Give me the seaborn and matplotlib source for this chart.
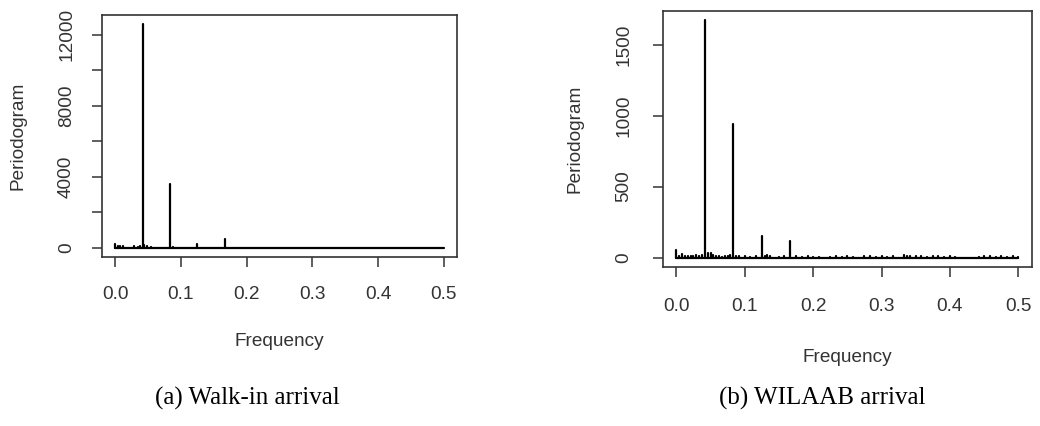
import numpy as np
import pandas as pd
import matplotlib
matplotlib.use("Agg")
import matplotlib.pyplot as plt
import seaborn as sns

# ---- data ----
walkin_freq = [0.0, 0.004, 0.008, 0.012, 0.029, 0.035, 0.0375, 0.0417, 0.044, 0.048,
               0.054, 0.0833, 0.0875, 0.125, 0.1667, 0.5]
walkin_pgram = [200, 110, 90, 100, 120, 80, 110, 12600, 150, 90,
                60, 3600, 70, 220, 520, 0]

wilaab_freq = [0.0, 0.004, 0.008, 0.012, 0.017, 0.021, 0.025, 0.029, 0.033, 0.0375,
               0.0417, 0.046, 0.05, 0.054, 0.058, 0.0625, 0.067, 0.071, 0.075, 0.079,
               0.0833, 0.0875, 0.092, 0.1, 0.108, 0.117, 0.125, 0.129, 0.133, 0.1375,
               0.15, 0.158, 0.1667, 0.175, 0.183, 0.192, 0.2, 0.208, 0.225, 0.233,
               0.242, 0.25, 0.258, 0.275, 0.283, 0.292, 0.3, 0.308, 0.317, 0.333,
               0.3375, 0.342, 0.35, 0.358, 0.367, 0.375, 0.383, 0.392, 0.4, 0.408,
               0.442, 0.45, 0.458, 0.467, 0.475, 0.483, 0.492, 0.5]
wilaab_pgram = [50, 12, 25, 10, 8, 12, 10, 15, 12, 18,
                1671, 35, 30, 20, 10, 8, 6, 8, 10, 15,
                940, 12, 8, 8, 6, 8, 150, 10, 20, 10,
                6, 8, 115, 8, 6, 8, 6, 6, 6, 8,
                6, 8, 6, 8, 8, 6, 10, 6, 8, 20,
                10, 8, 10, 8, 6, 8, 10, 6, 8, 6,
                6, 8, 8, 6, 8, 6, 8, 4]

x_ticks = [0.0, 0.1, 0.2, 0.3, 0.4, 0.5]
x_ticklabels = ["0.0", "0.1", "0.2", "0.3", "0.4", "0.5"]
walkin_yticks = [0, 2000, 4000, 6000, 8000, 10000, 12000]
walkin_yticklabels = ["0", "", "4000", "", "8000", "", "12000"]
wilaab_yticks = [0, 500, 1000, 1500]
wilaab_yticklabels = ["0", "500", "1000", "1500"]
captions = ["(a) Walk-in arrival", "(b) WILAAB arrival"]

sns.set_theme(style="ticks")
plt.rcParams["font.family"] = ["Liberation Sans", "DejaVu Sans"]

TXT = "#333333"


def spikes_frame(freq, vals):
    rows = []
    for i, (f, v) in enumerate(zip(freq, vals)):
        rows.append({"id": i, "freq": f, "val": 0.0})
        rows.append({"id": i, "freq": f, "val": v})
    base = len(freq)
    rows.append({"id": base, "freq": min(freq), "val": 0.0})
    rows.append({"id": base, "freq": max(freq), "val": 0.0})
    return pd.DataFrame(rows)


fig = plt.figure(figsize=(10.4, 4.26), dpi=100)
ax1 = fig.add_axes([0.0981, 0.3967, 0.3413, 0.568])
ax2 = fig.add_axes([0.6372, 0.3732, 0.3551, 0.601])

panels = [
    (ax1, walkin_freq, walkin_pgram, walkin_yticks, walkin_yticklabels, 12.2, 13.7, -0.351, -0.237),
    (ax2, wilaab_freq, wilaab_pgram, wilaab_yticks, wilaab_yticklabels, 14.4, 15.0, -0.352, -0.2375),
]

for ax, fr, pv, yt, ytl, ypad, xpad, xlab_y, ylab_x in panels:
    df = spikes_frame(fr, pv)
    sns.lineplot(data=df, x="freq", y="val", units="id", estimator=None,
                 sort=False, color="black", linewidth=1.6, ax=ax, legend=False)
    rng = max(pv) - 0
    ax.set_xlim(-0.02, 0.52)
    ax.set_ylim(0 - 0.04 * rng, max(pv) + 0.04 * rng)
    ax.set_xticks(x_ticks)
    ax.set_xticklabels(x_ticklabels)
    ax.set_yticks(yt)
    ax.set_yticklabels(ytl, rotation=90, va="center")
    ax.tick_params(axis="both", direction="out", length=7.2, width=1.1,
                   colors=TXT, labelsize=13.7, labelcolor=TXT)
    ax.tick_params(axis="y", pad=ypad)
    ax.tick_params(axis="x", pad=xpad)
    for s in ax.spines.values():
        s.set_visible(True)
        s.set_color(TXT)
        s.set_linewidth(1.2)
    # R style: axis lines not attached to box for ticks
    ax.set_xlabel("Frequency", fontsize=13.7, color=TXT)
    ax.set_ylabel("Periodogram", fontsize=13.7, color=TXT)
    ax.xaxis.set_label_coords(0.5, xlab_y)
    ax.xaxis.label.set_va("center")
    ax.yaxis.set_label_coords(ylab_x, 0.5)
    ax.yaxis.label.set_va("center")

fig.text(247 / 1040, 1 - 398 / 426, captions[0], ha="center", va="center",
         fontsize=18, family=["Liberation Serif", "DejaVu Serif"], color="black")
fig.text(822 / 1040, 1 - 398 / 426, captions[1], ha="center", va="center",
         fontsize=18, family=["Liberation Serif", "DejaVu Serif"], color="black")

fig.savefig("out.png", dpi=100, facecolor="white")
